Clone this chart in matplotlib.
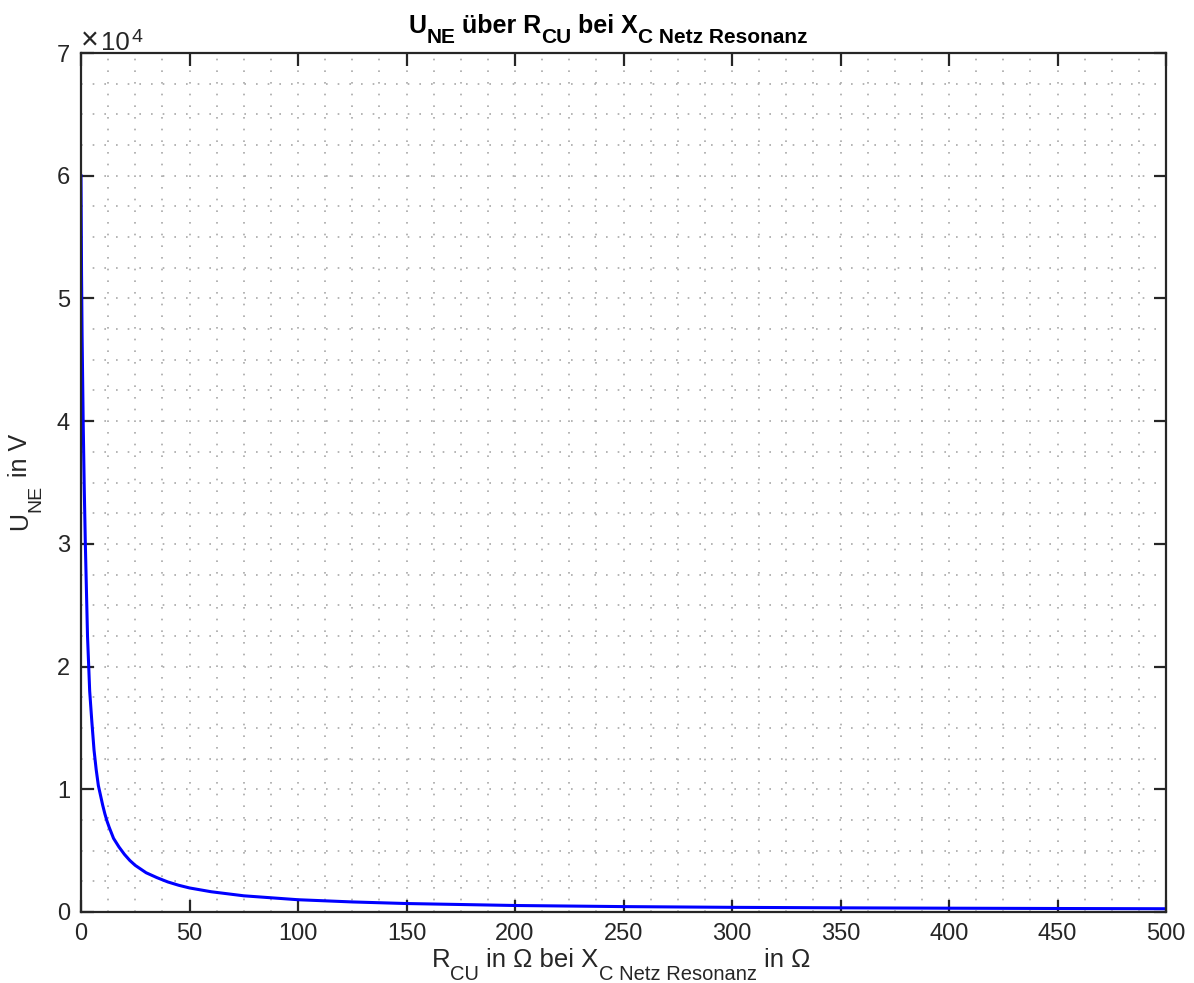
import matplotlib.pyplot as plt
import numpy as np
from matplotlib.ticker import MultipleLocator

plt.rcParams['font.family'] = ['Liberation Sans', 'DejaVu Sans']

# R_CU in Ohm and U_NE in V
r_cu = [0, 0.25, 0.5, 1, 1.5, 2, 3, 4, 5, 6, 7, 8, 9, 10, 11, 12, 13, 15,
        17.5, 20, 22.5, 25, 27.5, 30, 35, 40, 45, 50, 60, 75, 100, 125, 150,
        200, 250, 300, 350, 400, 450, 500]
u_ne = [60000, 52000, 47000, 40000, 34500, 30000, 22500, 18000, 15500, 13200,
        11600, 10300, 9500, 8700, 8000, 7400, 6900, 6000, 5300, 4700, 4200,
        3800, 3500, 3200, 2800, 2450, 2180, 1960, 1650, 1320, 1000, 820, 690,
        530, 440, 380, 340, 310, 285, 265]

x_ticks = [0, 50, 100, 150, 200, 250, 300, 350, 400, 450, 500]
y_ticks = [0, 1, 2, 3, 4, 5, 6, 7]

W, H = 1194, 983
fig = plt.figure(figsize=(W / 100, H / 100), dpi=100)
ax = fig.add_axes([81 / W, 1 - 912 / H, (1166 - 81) / W, (912 - 53) / H])

ax.plot(r_cu, np.array(u_ne) / 1e4, color='#0000ff', lw=2.2)

ax.set_xlim(0, 500)
ax.set_ylim(0, 7)
ax.set_xticks(x_ticks)
ax.set_yticks(y_ticks)
ax.xaxis.set_minor_locator(MultipleLocator(12.5))
ax.yaxis.set_minor_locator(MultipleLocator(0.25))

ax.grid(True, which='both', color='#a8a8a8', lw=1.2, linestyle=(0, (1, 6)))
ax.set_axisbelow(True)

ax.tick_params(which='major', direction='in', length=9, width=1.6,
               top=True, right=True, labelsize=17, colors='#262626', pad=8)
ax.tick_params(which='minor', length=0)
for s in ax.spines.values():
    s.set_linewidth(1.6)
    s.set_color('#262626')

renderer = fig.canvas.get_renderer()


def text_width(s, size, weight):
    t = fig.text(0, 0, s, fontsize=size, fontweight=weight)
    w = t.get_window_extent(renderer).width
    t.remove()
    return w


def rich(pieces, center, base, rotation=0, weight='normal', color='#262626'):
    # pieces: (text, fontsize, drop below baseline in px, spaces before)
    widths = []
    for s, size, drop, sp in pieces:
        space = text_width('n n', size, weight) - text_width('nn', size, weight)
        widths.append((sp * space, text_width(s, size, weight)))
    total = sum(g + w for g, w in widths)
    pos = center - total / 2
    for (s, size, drop, sp), (g, w) in zip(pieces, widths):
        pos += g
        if rotation == 0:
            x, y = pos, H - base - drop
        else:
            x, y = base + drop, pos
        fig.text(x / W, y / H, s, fontsize=size, fontweight=weight, color=color,
                 rotation=rotation, rotation_mode='anchor',
                 ha='left', va='baseline')
        pos += w


# title
rich([('U', 18, 0, 0), ('NE', 15, 10, 0), ('über R', 18, 0, 1),
      ('CU', 15, 10, 0), ('bei X', 18, 0, 1), ('C Netz Resonanz', 15, 10, 0)],
     center=608, base=33, weight='bold', color='black')

# x label
rich([('R', 18.5, 0, 0), ('CU', 14.5, 13, 0), ('in Ω bei X', 18.5, 0, 1),
      ('C Netz Resonanz', 14.5, 13, 0), ('in Ω', 18.5, 0, 1)],
     center=621, base=967)

# y label (rotated, reads upward)
rich([('U', 18, 0, 0), ('NE', 14, 13, 0), ('in V', 18, 0, 1)],
     center=H - 482, base=27, rotation=90)

# exponent label
fig.text(81 / W, 1 - 49 / H, '×', fontsize=22, color='#262626',
         ha='left', va='baseline')
fig.text(101 / W, 1 - 50 / H, '10', fontsize=18.5, color='#262626',
         ha='left', va='baseline')
fig.text(131 / W, 1 - 42 / H, '4', fontsize=14, color='#262626',
         ha='left', va='baseline')

fig.savefig('out.png', dpi=100)
